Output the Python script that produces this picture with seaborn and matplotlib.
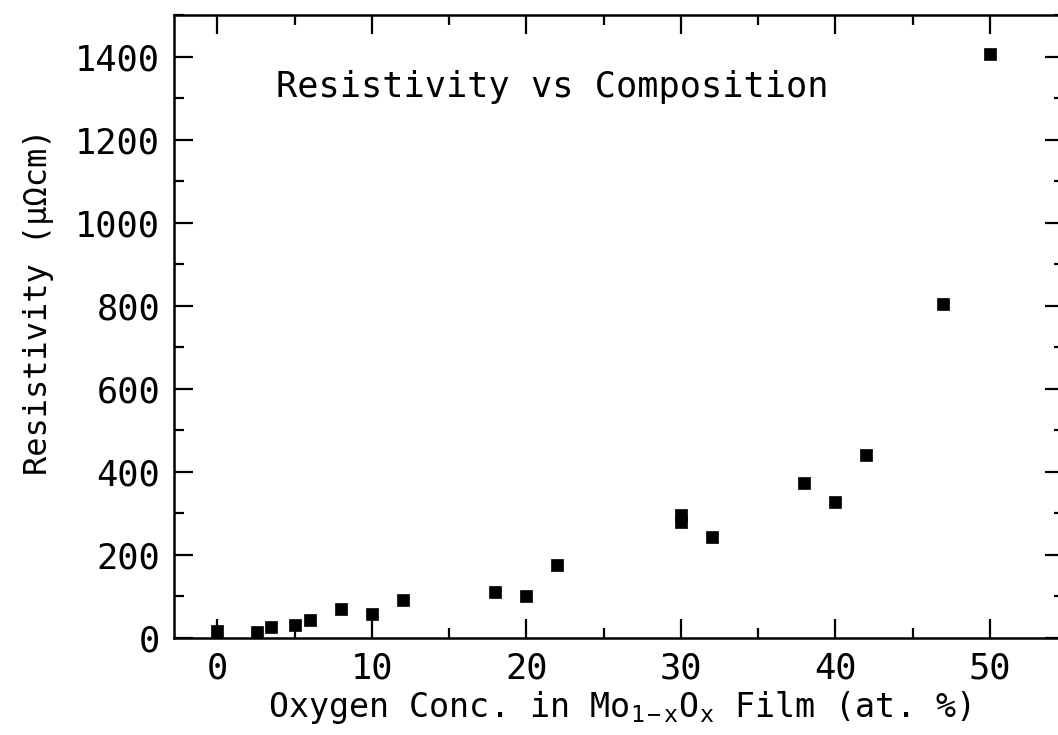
import matplotlib
matplotlib.use("Agg")
import matplotlib.pyplot as plt
import seaborn as sns
import pandas as pd
from matplotlib.ticker import MultipleLocator

# Data
oxygen = [0, 2.6, 3.5, 5, 6, 8, 10, 12, 18, 20, 22, 30, 30, 32, 38, 40, 42, 47, 50]
resistivity = [18, 14, 26, 31, 43, 70, 58, 91, 110, 101, 175, 280, 295, 243, 372, 327, 440, 805, 1405]
x_ticks = [0, 10, 20, 30, 40, 50]
y_ticks = [0, 200, 400, 600, 800, 1000, 1200, 1400]

df = pd.DataFrame({"oxygen": oxygen, "resistivity": resistivity})

sns.set_theme(style="white")
plt.rcParams["font.family"] = ["DejaVu Sans Mono", "DejaVu Sans"]
plt.rcParams["mathtext.fontset"] = "custom"
plt.rcParams["mathtext.rm"] = "DejaVu Sans Mono"
plt.rcParams["mathtext.it"] = "DejaVu Sans Mono"
plt.rcParams["mathtext.default"] = "rm"

fig = plt.figure(figsize=(10.58, 7.35), dpi=100)
ax = fig.add_axes([174 / 1058, 97 / 735, 890 / 1058, 623 / 735])

sns.scatterplot(data=df, x="oxygen", y="resistivity", marker="s", s=75,
                color="black", edgecolor="black", linewidth=0.5, ax=ax, zorder=3)

ax.set_xlim(-2.8, 54.8)
ax.set_ylim(0, 1500)
ax.set_xticks(x_ticks)
ax.set_yticks(y_ticks)
ax.xaxis.set_minor_locator(MultipleLocator(5))
ax.yaxis.set_minor_locator(MultipleLocator(100))

ax.tick_params(which="both", direction="in", top=True, right=True,
               bottom=True, left=True, color="black", width=1.6)
ax.tick_params(which="major", length=14, labelsize=25.5, pad=10)
ax.tick_params(which="minor", length=7)
for lab in ax.get_xticklabels() + ax.get_yticklabels():
    lab.set_color("black")

for sp in ax.spines.values():
    sp.set_color("black")
    sp.set_linewidth(1.8)

ax.set_xlabel(r"Oxygen Conc. in Mo$_{1-x}$O$_x$ Film (at. %)", fontsize=24,
              color="black", labelpad=2)
ax.set_ylabel("Resistivity (μΩcm)", fontsize=23, color="black")
ax.yaxis.set_label_coords(-0.135, 0.54)

ax.text(0.425, 0.884, "Resistivity vs Composition", transform=ax.transAxes,
        ha="center", va="center", fontsize=25.4, color="black")

fig.savefig("out.png", dpi=100)
